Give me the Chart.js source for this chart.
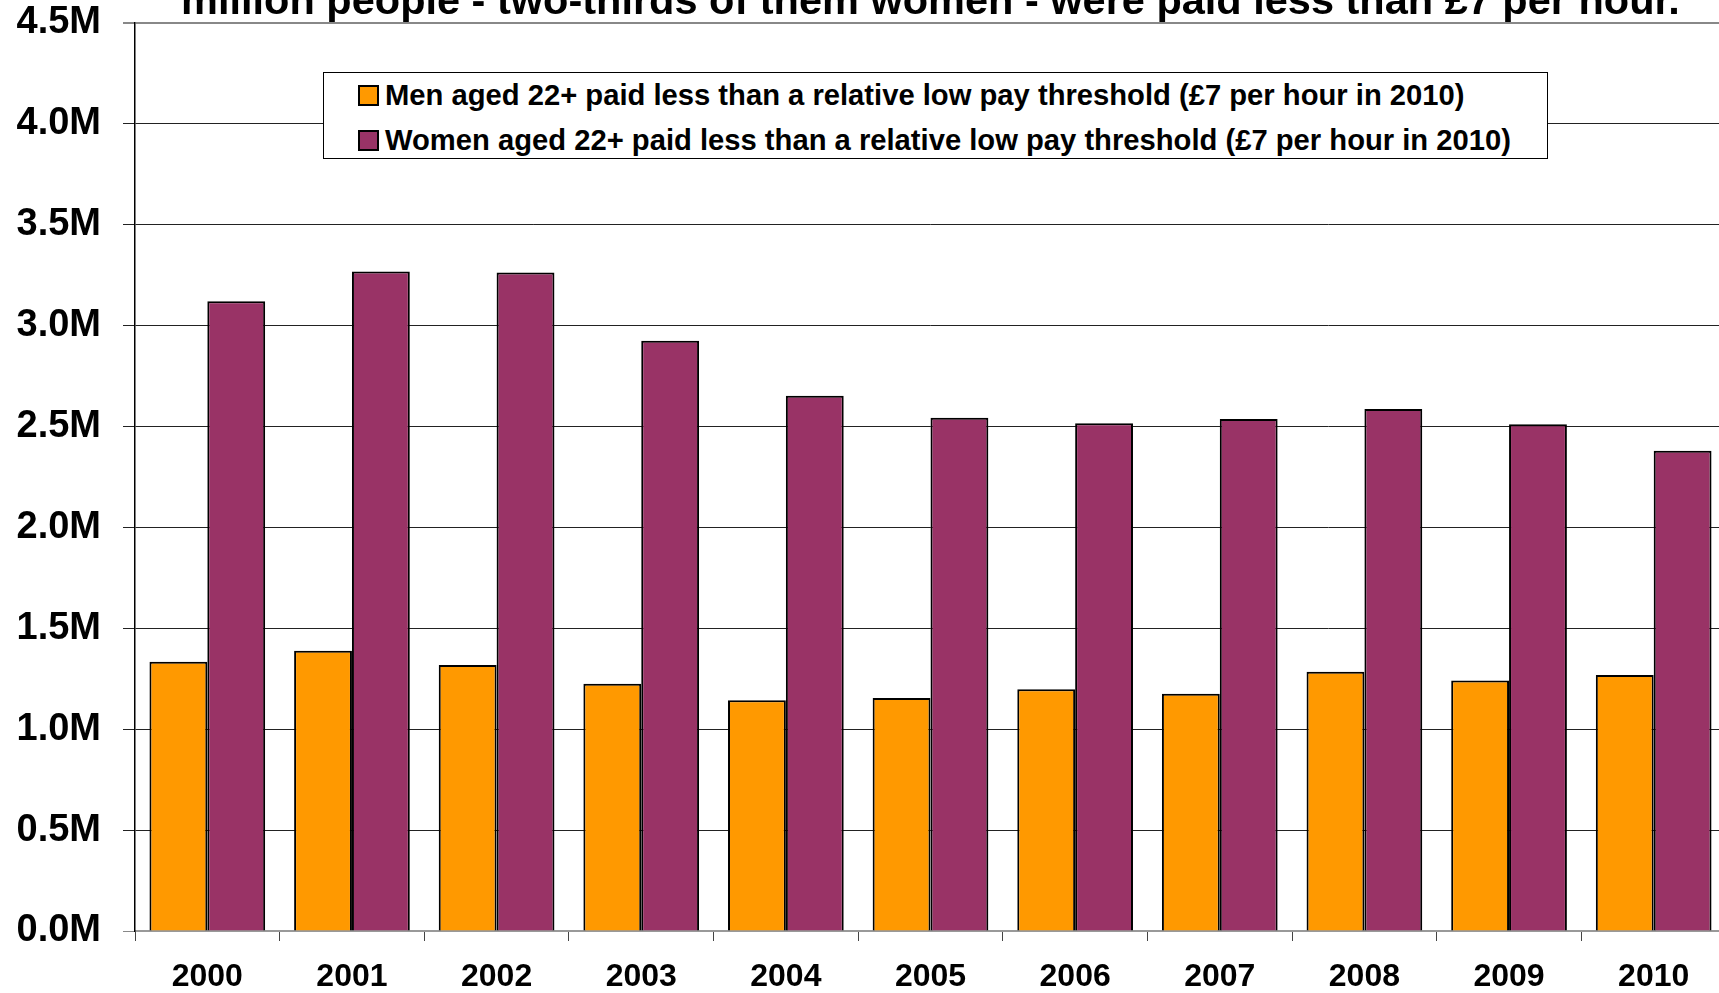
<!DOCTYPE html>
<html>
<head>
  <style>
    html, body {
      margin: 0;
      padding: 0;
      background: #fff;
      overflow: hidden;
    }

    .chart-container {
      position: relative;
      width: 1719px;
      height: 993px;
      overflow: hidden;
    }

    #lowPayChart {
      position: absolute;
      left: 0;
      top: 0;
    }

    #legendBox {
      position: absolute;
      left: 323px;
      top: 72px;
      width: 1225px;
      height: 87px;
      box-sizing: border-box;
      border: 1px solid #000;
      background: #fff;
      font-family: "Liberation Sans", Arial, sans-serif;
      font-weight: bold;
      font-size: 29.2px;
      color: #000;
    }

    .legend-row {
      display: flex;
      align-items: center;
      height: 45px;
      padding-left: 34px;
    }

    .legend-swatch {
      width: 21px;
      height: 21px;
      box-sizing: border-box;
      border: 2px solid #000;
      margin-right: 6px;
    }
  </style>
  <script src="https://cdn.jsdelivr.net/npm/chart.js"></script>
</head>
<body>
  <div class="chart-container">
    <!-- canvas is a bit bigger than the window: the picture cuts the last bar and the title -->
    <canvas id="lowPayChart" width="1726" height="1013"></canvas>
    <div id="legendBox"></div>
  </div>

  <script>
    // values (people)
    const years = ['2000', '2001', '2002', '2003', '2004', '2005', '2006', '2007', '2008', '2009', '2010'];
    const menLowPay = [1334000, 1389000, 1318000, 1225000, 1144000, 1155000, 1198000, 1176000, 1285000, 1242000, 1269000];
    const womenLowPay = [3121000, 3268000, 3263000, 2925000, 2653000, 2544000, 2516000, 2538000, 2587000, 2511000, 2380000];
    const seriesLabels = [
      'Men aged 22+ paid less than a relative low pay threshold (£7 per hour in 2010)',
      'Women aged 22+ paid less than a relative low pay threshold (£7 per hour in 2010)'
    ];
    // only the last line of the title is left inside the picture
    const titleLine = 'million people - two-thirds of them women - were paid less than £7 per hour.';

    const ORANGE = '#ff9900';
    const PURPLE = '#993366';
    const FONT = '"Liberation Sans", Arial, sans-serif';

    // draws the cut-off title line just above the plot, centred on the chart area
    const cutTitle = {
      id: 'cutTitle',
      afterDraw(chart) {
        const c = chart.ctx;
        const area = chart.chartArea;
        c.save();
        c.font = 'bold 41.5px ' + FONT;
        c.fillStyle = '#000';
        c.textAlign = 'center';
        c.textBaseline = 'alphabetic';
        c.fillText(titleLine, (area.left + area.right) / 2, area.top - 9);
        c.restore();
      }
    };

    document.addEventListener('DOMContentLoaded', function() {
      const ctx = document.getElementById('lowPayChart').getContext('2d');

      const data = {
        labels: years,
        datasets: [{
          label: seriesLabels[0],
          data: menLowPay,
          backgroundColor: ORANGE,
          borderColor: '#000',
          borderWidth: 2
        }, {
          label: seriesLabels[1],
          data: womenLowPay,
          backgroundColor: PURPLE,
          borderColor: '#000',
          borderWidth: 2
        }]
      };

      const config = {
        type: 'bar',
        data: data,
        plugins: [cutTitle],
        options: {
          responsive: false,
          animation: false,
          layout: {
            padding: { left: 0, right: 0, top: 0, bottom: 0 }
          },
          datasets: {
            bar: {
              categoryPercentage: 0.8,
              barPercentage: 1.0
            }
          },
          scales: {
            x: {
              grid: {
                display: true,
                drawOnChartArea: false,
                drawTicks: true,
                tickLength: 10,
                color: '#444',
                lineWidth: 1
              },
              border: {
                display: true,
                color: '#999',
                width: 2
              },
              ticks: {
                color: '#000',
                padding: 20,
                font: { family: FONT, size: 32, weight: 'bold', lineHeight: 1 }
              }
            },
            y: {
              min: 0,
              max: 4500000,
              afterFit: (scale) => {
                scale.width = 135;
                scale.paddingTop = 23;
                scale.paddingBottom = 0;
              },
              grid: {
                tickLength: 12,
                color: (c) => (c.tick && (c.tick.value === 4500000 || c.tick.value === 0)) ? '#888' : '#222',
                lineWidth: (c) => (c.tick && c.tick.value === 4500000) ? 2 : 1
              },
              border: {
                display: true,
                color: '#000',
                width: 1.5
              },
              ticks: {
                stepSize: 500000,
                color: '#000',
                padding: 22,
                font: { family: FONT, size: 38, weight: 'bold' },
                callback: (v) => (v / 1000000).toFixed(1) + 'M'
              }
            }
          },
          plugins: {
            legend: { display: false },
            tooltip: { enabled: false },
            title: { display: false }
          }
        }
      };

      const lowPayChart = new Chart(ctx, config);

      // legend box drawn over the plot, built from the datasets
      const legendBox = document.getElementById('legendBox');
      lowPayChart.data.datasets.forEach((ds) => {
        const row = document.createElement('div');
        row.className = 'legend-row';
        const sw = document.createElement('span');
        sw.className = 'legend-swatch';
        sw.style.background = ds.backgroundColor;
        const txt = document.createElement('span');
        txt.textContent = ds.label;
        row.appendChild(sw);
        row.appendChild(txt);
        legendBox.appendChild(row);
      });
    });
  </script>
</body>
</html>
